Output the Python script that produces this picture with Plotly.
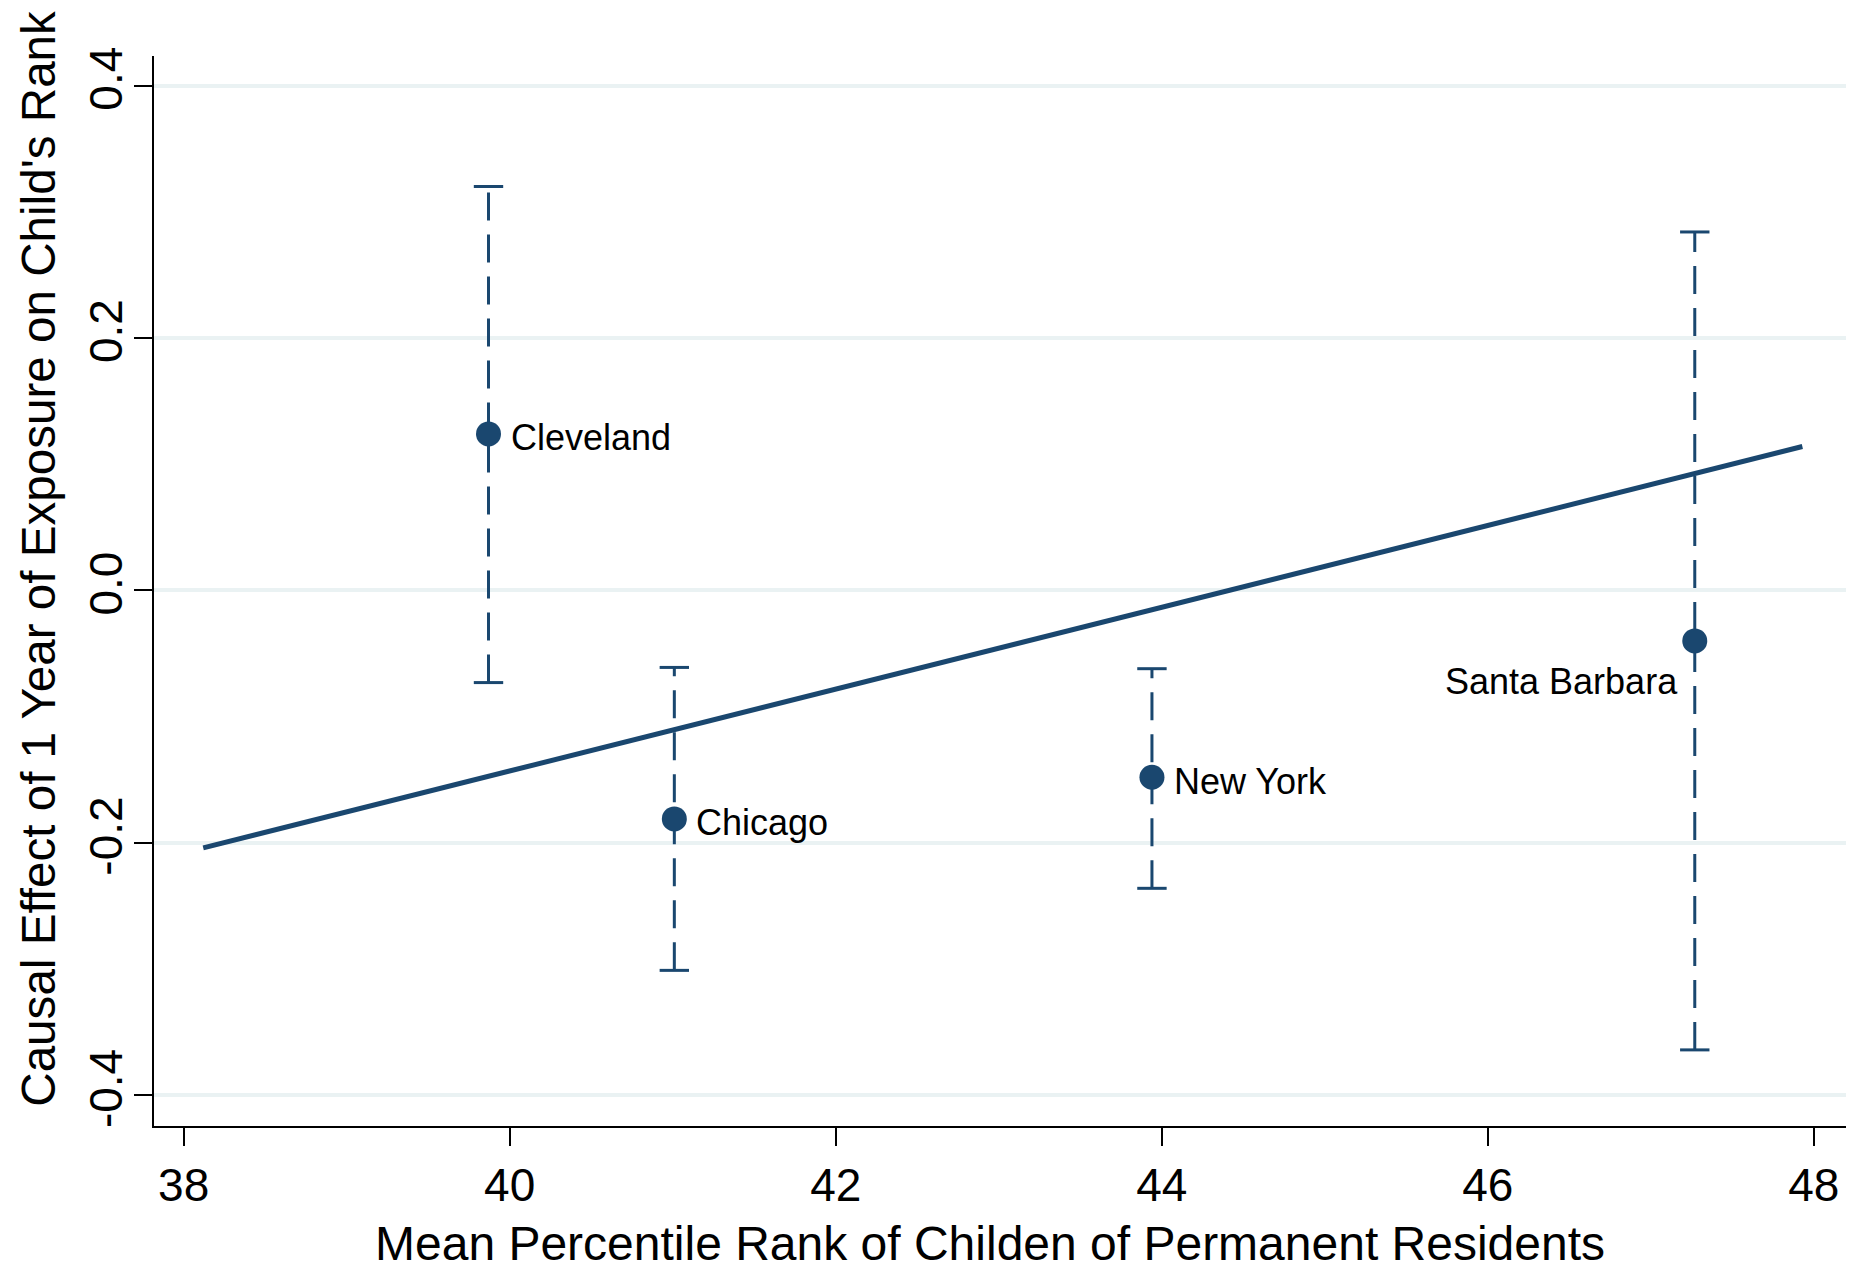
import plotly.graph_objects as go

# ---- data ----
cities = ["Cleveland", "Chicago", "New York", "Santa Barbara"]
perm_rank = [39.87, 41.01, 43.94, 47.27]          # x: mean percentile rank of children of permanent residents
effect = [0.124, -0.181, -0.148, -0.040]          # causal effect of 1 year of exposure
ci_low = [-0.073, -0.301, -0.236, -0.364]
ci_high = [0.320, -0.061, -0.062, 0.284]
fit_x = [38.12, 47.93]
fit_y = [-0.204, 0.114]
x_ticks = [38, 40, 42, 44, 46, 48]
y_ticks = [-0.4, -0.2, 0.0, 0.2, 0.4]
y_tick_labels = ["-0.4", "-0.2", "0.0", "0.2", "0.4"]

NAVY = "#1a476f"
FONT = "Liberation Sans, Arial, Helvetica, sans-serif"

# page body has an 8px margin; figure drawn at (8, 8)
W, H = 1846, 1265
L, T, R, B = 145.7, 47.6, 6, 147.4
plot_w = W - L - R
plot_h = H - T - B

fig = go.Figure()

# confidence intervals (dashed)
for xi, lo, hi in zip(perm_rank, ci_low, ci_high):
    fig.add_trace(go.Scatter(
        x=[xi, xi], y=[lo, hi], mode="lines",
        line=dict(color=NAVY, width=3, dash="28px,14px"),
        hoverinfo="skip", showlegend=False))

# caps
fig.add_trace(go.Scatter(
    x=perm_rank + perm_rank, y=ci_low + ci_high, mode="markers",
    marker=dict(symbol="line-ew", size=21, line=dict(color=NAVY, width=3)),
    hoverinfo="skip", showlegend=False))

# fit line
fig.add_trace(go.Scatter(
    x=fit_x, y=fit_y, mode="lines",
    line=dict(color=NAVY, width=5), showlegend=False))

# points
fig.add_trace(go.Scatter(
    x=perm_rank, y=effect, mode="markers",
    marker=dict(color=NAVY, size=25, line=dict(width=0)),
    showlegend=False))

# labels
label_style = {
    "Cleveland": dict(xanchor="left", xshift=20, yshift=-4),
    "Chicago": dict(xanchor="left", xshift=20, yshift=-4),
    "New York": dict(xanchor="left", xshift=20, yshift=-4),
    "Santa Barbara": dict(xanchor="right", xshift=-15, yshift=-41),
}
for name, xi, yi in zip(cities, perm_rank, effect):
    st = label_style[name]
    fig.add_annotation(x=xi, y=yi, text=name, showarrow=False,
                       xanchor=st["xanchor"], yanchor="middle",
                       xshift=st["xshift"], yshift=st["yshift"],
                       font=dict(family=FONT, size=36, color="black"))

# y-axis title as rotated annotation
fig.add_annotation(xref="paper", yref="paper",
                   x=-(L - 30) / plot_w, y=(plot_h - (550 - T)) / plot_h,
                   text="Causal Effect of 1 Year of Exposure on Child's Rank",
                   textangle=-90, showarrow=False, xanchor="center", yanchor="middle",
                   font=dict(family=FONT, size=47.6, color="black"))

# x-axis title as annotation
fig.add_annotation(xref="paper", yref="paper",
                   x=(982 - L) / plot_w, y=-(1235 - (H - B)) / plot_h,
                   text="Mean Percentile Rank of Childen of Permanent Residents",
                   showarrow=False, xanchor="center", yanchor="middle", borderpad=0,
                   font=dict(family=FONT, size=48, color="black"))

fig.update_layout(
    width=W, height=H,
    margin=dict(l=L, r=R, t=T, b=B),
    paper_bgcolor="white", plot_bgcolor="white",
    font=dict(family=FONT, color="black"),
    xaxis=dict(range=[37.818, 48.21], tickvals=x_ticks,
               showgrid=False, zeroline=False,
               showline=True, linecolor="black", linewidth=2,
               ticks="outside", ticklen=18, tickwidth=2, tickcolor="black",
               tickfont=dict(family=FONT, size=46, color="black")),
    yaxis=dict(range=[-0.4243, 0.4234], tickvals=y_ticks, ticktext=y_tick_labels,
               showgrid=True, gridcolor="#eaf2f3", gridwidth=4, zeroline=False,
               showline=True, linecolor="black", linewidth=2,
               ticks="outside", ticklen=18, tickwidth=2, tickcolor="black",
               tickangle=-90, ticklabelstandoff=-6,
               tickfont=dict(family=FONT, size=46, color="black")),
)

fig.write_html("out.html")
